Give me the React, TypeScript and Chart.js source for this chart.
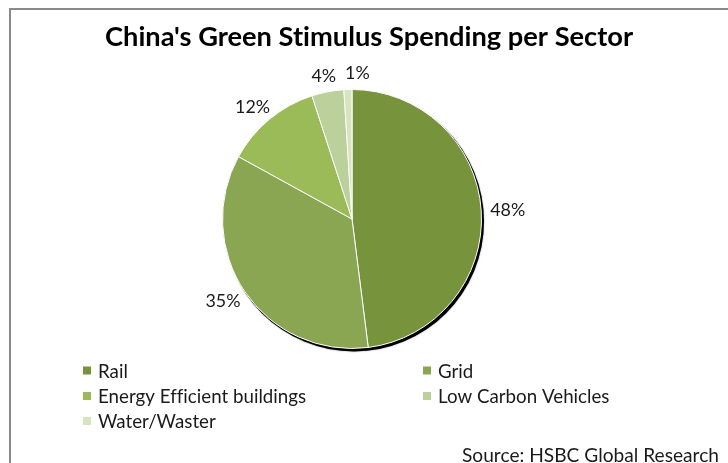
import React, { useEffect, useRef } from "react";
import { Chart, registerables } from "chart.js";

Chart.register(...registerables);

const TITLE = "China's Green Stimulus Spending per Sector";
const SOURCE = "Source: HSBC Global Research";
const sectors = ["Rail", "Grid", "Energy Efficient buildings", "Low Carbon Vehicles", "Water/Waster"];
const shares = [48, 35, 12, 4, 1];
const colors = ["#77933C", "#8AA652", "#9BBB59", "#BBD09A", "#D7E4BD"];

const FONT = "Lato, 'Open Sans', 'DejaVu Sans', sans-serif";

function setSpacing(ctx: CanvasRenderingContext2D) {
  // a tiny letter spacing turns off optional ligatures (e.g. "ti")
  (ctx as any).letterSpacing = "0.01px";
}

function fitSize(ctx: CanvasRenderingContext2D, text: string, weight: string, target: number) {
  setSpacing(ctx);
  ctx.font = `${weight} 100px ${FONT}`;
  const w = ctx.measureText(text).width;
  return (100 * target) / w;
}

const deco = {
  id: "deco",
  beforeDraw(chart: any) {
    const ctx = chart.ctx as CanvasRenderingContext2D;
    ctx.save();
    ctx.fillStyle = "#ffffff";
    ctx.fillRect(0, 0, chart.width, chart.height);
    ctx.fillStyle = "#8a8a8a";
    ctx.fillRect(9, 8, chart.width - 9, 2);
    ctx.fillRect(9, 8, 2, chart.height - 8);
    ctx.restore();
  },
  beforeDatasetsDraw(chart: any) {
    const ctx = chart.ctx as CanvasRenderingContext2D;
    const arc = chart.getDatasetMeta(0).data[0];
    if (!arc) return;
    const { x, y, outerRadius } = arc.getProps(["x", "y", "outerRadius"], true);
    ctx.save();
    ctx.fillStyle = "#000";
    ctx.shadowColor = "rgba(0,0,0,0.5)";
    ctx.shadowBlur = 1.5;
    ctx.beginPath();
    ctx.arc(x + 2, y + 2.5, outerRadius + 0.5, 0, Math.PI * 2);
    ctx.fill();
    ctx.restore();
  },
  afterDatasetsDraw(chart: any) {
    const ctx = chart.ctx as CanvasRenderingContext2D;
    const meta = chart.getDatasetMeta(0);
    const data = chart.data.datasets[0].data as number[];
    const total = data.reduce((a, b) => a + b, 0);
    ctx.save();
    const size = fitSize(ctx, "48%", "normal", 35);
    ctx.font = `normal ${size}px ${FONT}`;
    ctx.fillStyle = "#1a1a1a";
    ctx.textAlign = "center";
    ctx.textBaseline = "middle";
    let prev: { l: number; r: number; t: number; b: number } | null = null;
    meta.data.forEach((el: any, i: number) => {
      const { x, y, outerRadius, startAngle, endAngle } = el.getProps(
        ["x", "y", "outerRadius", "startAngle", "endAngle"],
        true
      );
      const mid = (startAngle + endAngle) / 2;
      const dx = Math.cos(mid);
      const dy = Math.sin(mid);
      const txt = Math.round((data[i] / total) * 100) + "%";
      const w = ctx.measureText(txt).width;
      const h = 14;
      const gap = 9;
      let lx = x + (outerRadius + gap) * dx + (dx * w) / 2;
      const ly = y + (outerRadius + gap) * dy + (dy * h) / 2;
      // simple overlap avoidance: push right of the previous label
      if (prev && ly + h / 2 > prev.t && ly - h / 2 < prev.b) {
        const minLeft = prev.r + 9;
        if (lx - w / 2 < minLeft && lx + w / 2 > prev.l) lx = minLeft + w / 2;
      }
      ctx.fillText(txt, lx, ly);
      prev = { l: lx - w / 2, r: lx + w / 2, t: ly - h / 2, b: ly + h / 2 };
    });
    ctx.restore();
  },
  afterDraw(chart: any) {
    const ctx = chart.ctx as CanvasRenderingContext2D;
    ctx.save();
    // Title
    const tSize = fitSize(ctx, TITLE, "bold", 528);
    ctx.font = `bold ${tSize}px ${FONT}`;
    ctx.fillStyle = "#000";
    ctx.textAlign = "left";
    ctx.textBaseline = "alphabetic";
    ctx.fillText(TITLE, 105, 46);

    // Legend
    const lSize = fitSize(ctx, "Energy Efficient buildings", "normal", 208);
    ctx.font = `normal ${lSize}px ${FONT}`;
    ctx.textBaseline = "middle";
    const labels = chart.data.labels as string[];
    const bg = chart.data.datasets[0].backgroundColor as string[];
    const colX = [83, 423];
    const rowY = [370.5, 396, 421];
    labels.forEach((lab, i) => {
      const col = i % 2;
      const row = Math.floor(i / 2);
      const mx = colX[col];
      const my = rowY[row];
      ctx.fillStyle = bg[i];
      ctx.fillRect(mx, my - 4, 8, 8);
      ctx.fillStyle = "#1a1a1a";
      ctx.fillText(lab, mx + 15, my + 1);
    });

    // Source
    const sSize = fitSize(ctx, SOURCE, "normal", 257);
    ctx.font = `normal ${sSize}px ${FONT}`;
    ctx.textAlign = "right";
    ctx.fillStyle = "#1a1a1a";
    ctx.fillText(SOURCE, 719, 456);
    ctx.restore();
  },
};

export default function App() {
  const ref = useRef<HTMLCanvasElement | null>(null);
  useEffect(() => {
    if (!ref.current) return;
    const chart = new Chart(ref.current, {
      type: "pie",
      data: {
        labels: sectors,
        datasets: [
          {
            data: shares,
            backgroundColor: colors,
            borderColor: "#ffffff",
            borderWidth: 1,
          },
        ],
      },
      options: {
        responsive: false,
        animation: false,
        layout: { padding: { left: 222, right: 246, top: 89, bottom: 114 } },
        plugins: {
          legend: { display: false },
          tooltip: { enabled: false },
          title: { display: false },
        },
      },
      plugins: [deco],
    });
    return () => chart.destroy();
  }, []);
  return (
    <div style={{ position: "fixed", left: 0, top: 0, width: 728, height: 463, background: "#fff" }}>
      <canvas ref={ref} width={728} height={463} style={{ display: "block" }} />
    </div>
  );
}
